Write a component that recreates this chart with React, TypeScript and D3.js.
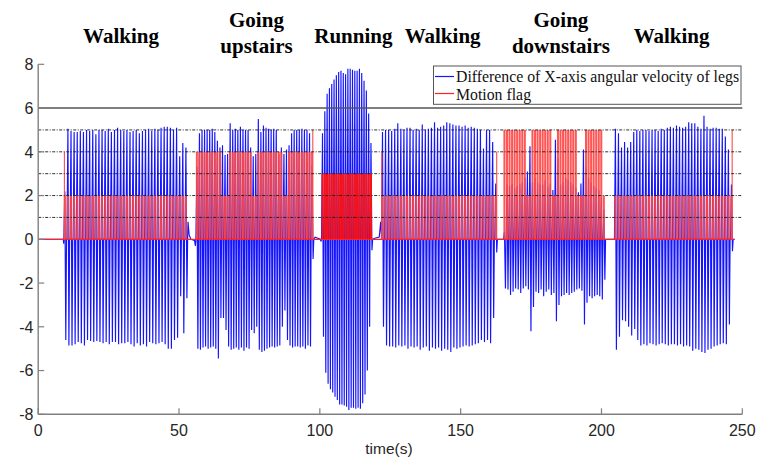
import React from "react";
import * as d3 from "d3";

// ---- data ----
const walk1Pos = [2.2, 5.05, 4.95, 4.9, 4.9, 4.95, 4.9, 5.0, 4.95, 5.0, 4.8, 5.0, 5.0, 4.95, 5.05, 4.9, 5.0, 5.1, 5.0, 4.95, 5.0, 4.9, 4.95, 5.0, 4.85, 4.95, 5.0, 5.05, 4.95, 5.05, 5.0, 5.1, 5.15, 5.15, 5.1, 5.0, 5.1, 3.8, 4.4, 4.2];
const walk1Neg = [-4.6, -4.85, -4.85, -4.8, -4.7, -4.75, -4.85, -4.6, -4.65, -4.7, -4.65, -4.7, -4.75, -4.7, -4.8, -4.7, -4.7, -4.8, -4.75, -4.75, -4.7, -4.8, -4.9, -4.75, -4.85, -4.8, -4.9, -4.7, -4.75, -4.8, -4.75, -4.7, -4.8, -5.0, -5.0, -4.6, -4.5, -2.6, -4.3, -2.7];
const upPos = [3.3, 4.85, 5.0, 5.0, 5.0, 5.0, 5.05, 4.9, 4.5, 4.2, 4.3, 3.85, 3.9, 5.3, 5.0, 5.05, 5.0, 5.15, 5.0, 5.0, 5.0, 4.2, 3.8, 3.9, 5.5, 4.9, 5.2, 5.1, 5.05, 5.0, 5.05, 5.0, 3.9, 4.2, 3.9, 4.1, 4.3, 4.85, 5.0, 5.0, 5.0, 5.05, 5.0, 5.0, 4.85, 3.4];
const upNeg = [-5.0, -5.05, -4.95, -4.9, -5.0, -4.95, -4.9, -5.0, -5.45, -3.6, -3.6, -4.15, -4.9, -5.05, -5.0, -4.95, -5.05, -4.95, -5.1, -4.95, -5.0, -4.15, -4.3, -4.0, -5.05, -5.15, -5.1, -5.0, -4.95, -4.9, -4.95, -4.9, -4.85, -4.0, -3.25, -4.6, -4.85, -4.95, -4.9, -4.9, -4.95, -4.9, -5.0, -4.85, -4.9, -0.9];
const runPos = [4.85, 5.85, 6.65, 6.9, 7.1, 7.3, 7.5, 7.65, 7.7, 7.6, 7.55, 7.8, 7.8, 7.75, 7.7, 7.7, 7.8, 7.6, 7.25, 6.8, 5.75, 4.4];
const runNeg = [-4.45, -6.1, -6.6, -6.85, -7.0, -7.2, -7.35, -7.55, -7.55, -7.6, -7.65, -7.8, -7.7, -7.7, -7.75, -7.7, -7.75, -7.5, -7.1, -6.0, -4.0, -0.5];
const walk2Pos = [4.9, 5.0, 5.0, 4.95, 5.05, 5.3, 5.05, 5.0, 5.1, 5.1, 5.0, 5.05, 5.0, 5.25, 5.0, 5.05, 5.1, 5.35, 5.1, 5.15, 5.2, 5.35, 5.3, 5.25, 5.2, 5.2, 5.15, 5.2, 5.1, 5.15, 5.1, 5.05, 5.0, 4.15, 5.0, 5.0, 4.45, 2.55];
const walk2Neg = [-4.0, -4.85, -4.9, -4.9, -4.95, -4.85, -4.9, -4.85, -5.0, -4.9, -4.95, -4.9, -5.05, -4.95, -4.9, -5.1, -4.95, -5.0, -4.95, -5.1, -5.0, -5.05, -5.15, -4.95, -5.0, -4.95, -4.9, -4.85, -4.9, -4.85, -4.8, -4.75, -4.6, -4.7, -4.6, -4.75, -3.6, -0.6];
const downPos = [0.35, 2.5, 2.45, 2.55, 2.35, 2.45, 2.5, 2.6, 2.8, 3.1, 4.25, 2.6, 2.8, 2.6, 2.5, 2.5, 2.7, 2.4, 2.55, 2.25, 4.55, 3.7, 2.5, 2.6, 2.8, 2.7, 2.6, 2.5, 2.35, 2.15, 2.55, 4.1, 3.3, 2.8, 2.6, 2.45, 2.35, 2.25, 1.95, 1.35];
const downNeg = [-2.25, -2.3, -2.55, -2.4, -2.25, -2.3, -2.45, -2.25, -2.15, -2.3, -4.2, -3.1, -2.4, -2.45, -2.3, -2.6, -2.4, -2.3, -2.55, -2.45, -3.75, -3.0, -2.6, -2.55, -2.45, -2.55, -2.45, -2.4, -2.3, -2.25, -2.35, -3.9, -2.9, -2.6, -2.7, -2.6, -2.55, -2.6, -2.75, -1.85];
const walk3Pos = [5.05, 4.85, 4.2, 4.45, 4.2, 4.45, 4.9, 5.0, 4.95, 5.0, 5.0, 4.95, 5.0, 5.0, 4.95, 5.05, 5.0, 5.1, 5.15, 5.1, 5.2, 5.15, 5.1, 5.15, 5.35, 5.3, 5.3, 5.15, 5.05, 5.65, 5.15, 5.05, 5.1, 5.1, 5.05, 5.05, 4.7, 4.1, 2.5];
const walk3Neg = [-5.05, -4.45, -3.7, -3.75, -4.0, -4.4, -4.1, -4.6, -4.85, -4.8, -4.85, -4.75, -4.8, -4.85, -4.8, -4.75, -4.8, -4.85, -4.8, -4.8, -4.85, -4.8, -4.9, -4.85, -4.9, -5.1, -5.0, -5.05, -5.15, -5.2, -5.05, -5.0, -4.9, -4.85, -4.8, -4.75, -4.8, -3.9, -0.55];

// first / last stride time (s) of each activity
const segStart = [9.5, 56.4, 101.0, 122.3, 165.6, 205.0];
const segEnd = [52.5, 97.3, 118.2, 162.5, 200.9, 246.2];
const segPos = [walk1Pos, upPos, runPos, walk2Pos, downPos, walk3Pos];
const segNeg = [walk1Neg, upNeg, runNeg, walk2Neg, downNeg, walk3Neg];

// blue signal between activities [t, value]
const restPoints: [number, number][] = [
  [0, 0], [8.9, 0], [9.05, -0.2],
  [53.2, 0.8], [53.6, 0.2], [54.2, 0], [55.5, -0.05], [55.8, -0.3],
  [98.3, 0.1], [100.2, 0], [100.45, -0.1],
  [119.5, 0.05], [121.1, 0.1], [121.6, 0.8], [121.85, 0.2],
  [163.3, 0], [165.1, 0],
  [201.9, 0], [204.5, 0],
  [246.9, 0], [247.3, 0],
];

// motion flag: base level per activity and higher-level blocks
const flagBase: [number, number, number][] = [
  [9.3, 52.7, 2], [56.1, 97.5, 2], [100.7, 118.3, 3], [122.0, 162.8, 2], [165.5, 201.5, 2], [204.3, 246.5, 2],
];
const flagHigh: [number, number, number][] = [
  [56.2, 64.6, 4], [67.4, 75.6, 4], [77.4, 86.6, 4], [88.4, 97.4, 4],
  [165.5, 172.9, 5], [175.4, 182.5, 5], [184.6, 191.7, 5], [194.2, 200.6, 5],
];
const flagSpikes: [number, number][] = [[9.3, 4], [97.5, 5], [122.0, 4], [162.8, 4], [246.4, 5]];

const activityNames = [["Walking"], ["Going", "upstairs"], ["Running"], ["Walking"], ["Going", "downstairs"], ["Walking"]];
const activityCenters = [29.4, 77.5, 111.9, 143.6, 185.6, 224.9];
const xTicks = [0, 50, 100, 150, 200, 250];
const yTicks = [-8, -6, -4, -2, 0, 2, 4, 6, 8];
const dashedLevels = [1, 2, 3, 4, 5];
const solidLevel = 6;
const legendLabels = ["Difference of X-axis angular velocity of legs", "Motion flag"];

export default function App() {
  const x = d3.scaleLinear().domain([0, 250]).range([38.2, 742.3]);
  const y = d3.scaleLinear().domain([-8, 8]).range([414.3, 64.3]);
  const flagFill = (level: number) => (level === 3 ? "#ff1010" : "#ff4646");
  const flagOpacity = (level: number) => (level === 3 ? 1 : 0.92);

  // build the blue polyline and red flag bars
  const pts: [number, number][] = [...restPoints];
  const cycles: { t: number; level: number }[] = [];
  segPos.forEach((pos, s) => {
    const neg = segNeg[s];
    const n = pos.length;
    const dt = (segEnd[s] - segStart[s]) / (n - 1);
    pos.forEach((p, i) => {
      const t = segStart[s] + i * dt;
      pts.push([t - 0.4, 0], [t - 0.05, p], [t + 0.3, neg[i]], [t + 0.55, 0]);
      let level = 0;
      flagBase.forEach(([a, b, l]) => { if (t >= a && t <= b) level = Math.max(level, l); });
      flagHigh.forEach(([a, b, l]) => { if (t >= a && t <= b) level = Math.max(level, l); });
      cycles.push({ t, level });
    });
  });
  pts.sort((a, b) => a[0] - b[0]);
  const line = d3.line<[number, number]>().x((d) => x(d[0])).y((d) => y(d[1]));
  const bluePath = line(pts) || "";

  const axisColor = "#808080";
  const textColor = "#262626";

  return (
    <svg width={771} height={467} style={{ position: "absolute", left: 0, top: 0, background: "#fff" }}>
      {/* blue signal */}
      <path d={bluePath} fill="none" stroke="#1414ff" strokeWidth={1.15} />
      {/* motion flag */}
      <g>
        {cycles.filter((c) => c.level > 0).map((c, i) => (
          <rect key={i} fill={flagFill(c.level)} fillOpacity={flagOpacity(c.level)} x={x(c.t - 0.42)} width={x(c.t + 0.3) - x(c.t - 0.42)} y={y(c.level)} height={y(0) - y(c.level)} />
        ))}
      </g>
      <line x1={x(0)} x2={x(247)} y1={y(0)} y2={y(0)} stroke="#ff2020" strokeWidth={1.2} />
      {flagSpikes.map(([t, v], i) => (
        <line key={i} x1={x(t)} x2={x(t)} y1={y(0)} y2={y(v)} stroke="#ff4a4a" strokeWidth={1.1} />
      ))}
      {/* reference lines */}
      {dashedLevels.map((v) => (
        <line key={v} x1={x(0)} x2={x(250)} y1={y(v)} y2={y(v)} stroke="#1a1a1a" strokeWidth={0.9} strokeDasharray="3,1.5,1,1.5" />
      ))}
      <line x1={x(0)} x2={x(250)} y1={y(solidLevel)} y2={y(solidLevel)} stroke="#555" strokeWidth={1.5} />
      {/* axes */}
      <line x1={x(0)} x2={x(250)} y1={y(-8)} y2={y(-8)} stroke={axisColor} strokeWidth={1.4} />
      <line x1={x(0)} x2={x(0)} y1={y(-8)} y2={y(8)} stroke={axisColor} strokeWidth={1.4} />
      {xTicks.map((t) => (
        <g key={t}>
          <line x1={x(t)} x2={x(t)} y1={y(-8)} y2={y(-8) - 6} stroke={axisColor} strokeWidth={1.2} />
          <text x={x(t)} y={436} textAnchor="middle" fontFamily="Liberation Sans, Arial, sans-serif" fontSize={16} fill={textColor}>{t}</text>
        </g>
      ))}
      {yTicks.map((v) => (
        <g key={v}>
          <line x1={x(0)} x2={x(0) + 6} y1={y(v)} y2={y(v)} stroke={axisColor} strokeWidth={1.2} />
          <text x={33.5} y={y(v) + 5.7} textAnchor="end" fontFamily="Liberation Sans, Arial, sans-serif" fontSize={16} fill={textColor}>{v}</text>
        </g>
      ))}
      <text x={389} y={454} textAnchor="middle" fontFamily="Liberation Sans, Arial, sans-serif" fontSize={15.5} fill={textColor}>time(s)</text>
      {/* activity labels */}
      {activityNames.map((lines, i) => (
        <text key={i} textAnchor="middle" fontFamily="Liberation Serif, Times New Roman, serif" fontWeight="bold" fontSize={21} fill="#000">
          {lines.length === 1 ? (
            <tspan x={x(activityCenters[i])} y={42.5}>{lines[0]}</tspan>
          ) : (
            lines.map((l, j) => (
              <tspan key={j} x={x(activityCenters[i])} y={27 + j * 25.5}>{l}</tspan>
            ))
          )}
        </text>
      ))}
      {/* legend */}
      <rect x={433.5} y={66} width={307.5} height={38.3} fill="#fff" stroke="#555" strokeWidth={1} />
      <line x1={435} x2={454} y1={76.5} y2={76.5} stroke="#1414ff" strokeWidth={1.2} />
      <line x1={435} x2={454} y1={93.5} y2={93.5} stroke="#ff2020" strokeWidth={1.2} />
      <text x={456} y={82.2} fontFamily="Liberation Serif, Times New Roman, serif" fontSize={15.8} fill="#111">{legendLabels[0]}</text>
      <text x={456} y={100.3} fontFamily="Liberation Serif, Times New Roman, serif" fontSize={15.8} fill="#111">{legendLabels[1]}</text>
    </svg>
  );
}
